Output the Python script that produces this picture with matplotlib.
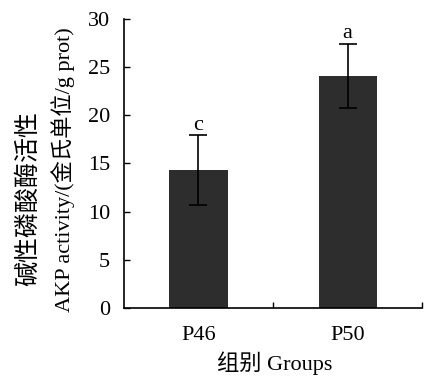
import matplotlib
matplotlib.use("Agg")
import matplotlib.pyplot as plt

groups = ["P46", "P50"]
values = [14.3, 24.1]
errors = [3.6, 3.3]
letters = ["c", "a"]
yticks = [0, 5, 10, 15, 20, 25, 30]

plt.rcParams["font.family"] = ["Liberation Serif", "Noto Sans CJK SC"]
fig = plt.figure(figsize=(4.33, 3.85), dpi=100)
ax = fig.add_axes([0.286, 0.2, 0.689, 0.751])
pos = [1, 2]
ax.bar(pos, values, width=0.39, color="#2d2d2d", zorder=2)
ax.errorbar(pos, values, yerr=errors, fmt="none", ecolor="black", elinewidth=1.2,
            capsize=6.5, capthick=1.2, zorder=3)
for p, v, e, l in zip(pos, values, errors, letters):
    ax.text(p, v + e + 0.1, l, ha="center", va="bottom", fontsize=16)
ax.set_xlim(0.5, 2.5)
ax.set_ylim(0, 30)
ax.set_yticks(yticks)
ax.set_xticks(pos)
ax.set_xticklabels(groups, fontsize=16)
ax.set_xticks([1.5, 2.5], minor=True)
ax.tick_params(axis="x", which="major", length=0, pad=13)
ax.tick_params(axis="x", which="minor", direction="in", length=4, width=1)
ax.tick_params(axis="y", direction="in", length=4, width=1, labelsize=16, pad=10)
for s in ("top", "right"):
    ax.spines[s].set_visible(False)
for s in ("left", "bottom"):
    ax.spines[s].set_linewidth(1.2)
fig.text(275 / 433, 1 - 363 / 385, "组别 Groups", fontsize=16, ha="center", va="center")
fig.text(28 / 433, 1 - 198 / 385, "碱性磷酸酶活性", fontsize=18, rotation=90,
         ha="center", va="center")
fig.text(63 / 433, 1 - 170 / 385, "AKP activity/(金氏单位/g prot)", fontsize=16,
         rotation=90, ha="center", va="center")
fig.savefig("out.png", dpi=100)
